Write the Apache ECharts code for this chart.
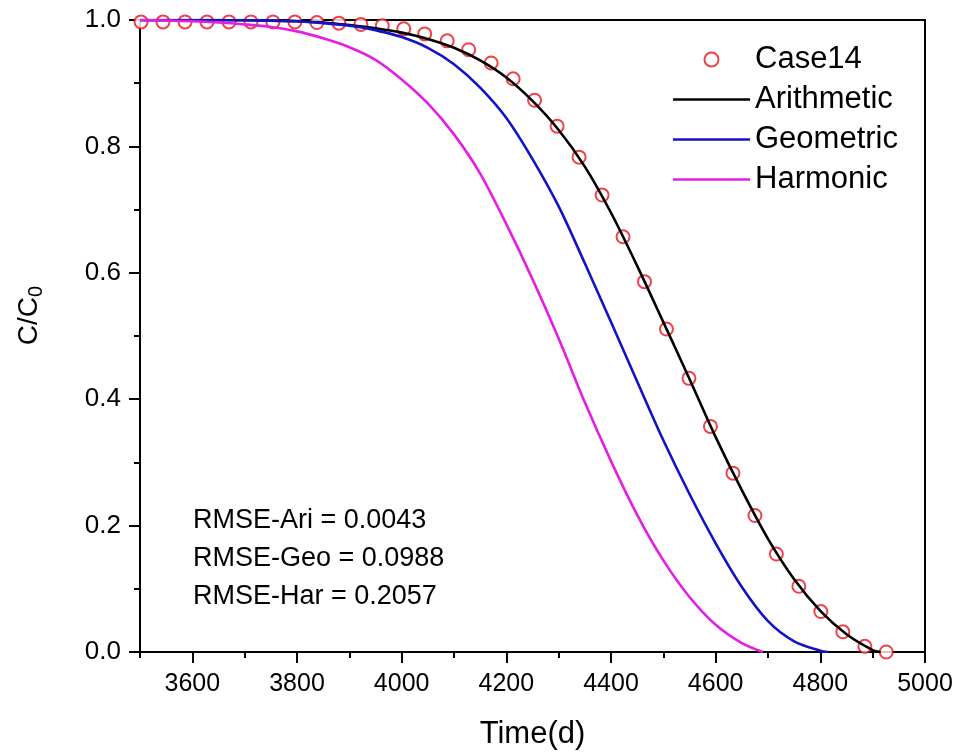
<!DOCTYPE html>
<html>
<head>
<meta charset="utf-8">
<script src="https://cdn.jsdelivr.net/npm/echarts@6/dist/echarts.min.js"></script>
<style>html,body{margin:0;padding:0;background:#fff;}#c{width:957px;height:755px;}</style>
</head>
<body>
<div id="c"></div>
<script>
// Observed data (Case14)
const caseT = [3502,3544,3586,3628,3670,3712,3754,3796,3838,3880,3922,3963,4004,4044,4087,4128,4171,4213,4254,4297,4339,4383,4423,4464,4506,4549,4590,4633,4675,4716,4759,4801,4843,4885,4926];
const caseC = [0.997,0.997,0.997,0.997,0.997,0.997,0.997,0.997,0.996,0.995,0.993,0.991,0.986,0.978,0.967,0.953,0.932,0.907,0.873,0.832,0.783,0.723,0.657,0.586,0.511,0.433,0.357,0.283,0.216,0.155,0.104,0.064,0.032,0.009,0.0];

// Arithmetic
const ariT = [3500,3550,3600,3650,3700,3750,3800,3850,3900,3950,4000,4050,4100,4150,4200,4250,4300,4350,4400,4450,4500,4550,4600,4650,4700,4750,4800,4850,4900,4915];
const ariC = [1.0,1.0,1.0,1.0,0.9995,0.999,0.998,0.996,0.992,0.987,0.980,0.970,0.956,0.936,0.909,0.872,0.826,0.768,0.695,0.611,0.522,0.432,0.340,0.256,0.179,0.115,0.065,0.028,0.003,0.0];

// Geometric
const geoT = [3500,3600,3650,3700,3750,3800,3850,3900,3950,4000,4050,4100,4150,4200,4250,4300,4350,4400,4450,4500,4550,4600,4650,4700,4750,4800,4815];
const geoC = [1.0,1.0,1.0,1.0,0.999,0.998,0.995,0.991,0.984,0.973,0.956,0.930,0.893,0.845,0.780,0.705,0.615,0.522,0.428,0.335,0.250,0.172,0.103,0.049,0.017,0.002,0.0];

// Harmonic
const harT = [3500,3550,3600,3650,3700,3750,3800,3850,3900,3950,4000,4050,4100,4150,4200,4250,4300,4350,4400,4450,4500,4550,4600,4650,4690];
const harC = [1.0,0.999,0.998,0.996,0.993,0.989,0.982,0.971,0.957,0.937,0.906,0.868,0.819,0.757,0.677,0.590,0.496,0.395,0.302,0.217,0.145,0.087,0.043,0.014,0.0];

const xMajor = [3600,3800,4000,4200,4400,4600,4800,5000];
const xMinor = [3500,3700,3900,4100,4300,4500,4700,4900];
const rmseLines = ['RMSE-Ari = 0.0043','RMSE-Geo = 0.0988','RMSE-Har = 0.2057'];

const zip = (a, b) => a.map((v, i) => [v, b[i]]);
const FONT = '"Liberation Sans", Arial, sans-serif';
const LINE_ICON = 'path://M0,5.7 L77,5.7 L77,8.3 L0,8.3 Z M0,0 L0.01,0 L0.01,14 L0,14 Z';

const chart = echarts.init(document.getElementById('c'), null, {renderer: 'canvas'});
chart.setOption({
  animation: false,
  backgroundColor: '#fff',
  textStyle: {fontFamily: FONT},
  grid: {left: 140, right: 32, top: 20, bottom: 102, show: true, borderColor: '#000', borderWidth: 2},
  legend: {
    orient: 'vertical', left: 668, top: 39,
    itemWidth: 77, itemHeight: 14, itemGap: 9, itemTextGap: 12,
    data: [
      {name: 'Case14', icon: 'emptyCircle'},
      {name: 'Arithmetic', icon: LINE_ICON},
      {name: 'Geometric', icon: LINE_ICON},
      {name: 'Harmonic', icon: LINE_ICON}
    ],
    textStyle: {fontFamily: FONT, fontSize: 31, color: '#000'}
  },
  xAxis: [{
    type: 'value', min: 3500, max: 5000, gridIndex: 0,
    splitLine: {show: false},
    axisLine: {show: true, lineStyle: {color: '#000', width: 2}},
    axisTick: {show: true, customValues: xMajor, length: 11, lineStyle: {color: '#000', width: 2}},
    axisLabel: {customValues: xMajor, fontSize: 25, color: '#000', margin: 20, fontFamily: FONT, formatter: v => String(v)},
    name: 'Time(d)', nameLocation: 'middle', nameGap: 67,
    nameTextStyle: {fontSize: 31, color: '#000', fontFamily: FONT}
  }, {
    type: 'value', min: 3500, max: 5000, gridIndex: 0, position: 'bottom',
    splitLine: {show: false},
    axisLine: {show: false},
    axisTick: {show: true, customValues: xMinor, length: 6, lineStyle: {color: '#000', width: 2}},
    axisLabel: {show: false}
  }],
  yAxis: {
    type: 'value', min: 0, max: 1, interval: 0.2,
    splitLine: {show: false},
    axisLine: {show: true, lineStyle: {color: '#000', width: 2}},
    axisTick: {show: true, length: 11, lineStyle: {color: '#000', width: 2}},
    minorTick: {show: true, splitNumber: 2, length: 6, lineStyle: {color: '#000', width: 2}},
    axisLabel: {fontSize: 26, color: '#000', margin: 19, fontFamily: FONT, formatter: v => v.toFixed(1)}
  },
  graphic: [
    {type: 'text', left: 15, top: 286, rotation: Math.PI / 2,
     style: {text: '{a|C/C}{s|0}', fill: '#000', font: '28px ' + FONT,
       rich: {a: {fontSize: 28, fontFamily: FONT, fill: '#000'},
              s: {fontSize: 20, fontFamily: FONT, fill: '#000', verticalAlign: 'bottom', padding: [15, 0, 0, 0]}}}},
    {type: 'text', left: 193, top: 507, style: {text: rmseLines[0], fill: '#000', font: '27px ' + FONT}},
    {type: 'text', left: 193, top: 545, style: {text: rmseLines[1], fill: '#000', font: '27px ' + FONT}},
    {type: 'text', left: 193, top: 583, style: {text: rmseLines[2], fill: '#000', font: '27px ' + FONT}}
  ],
  series: [
    {name: 'Case14', type: 'scatter', data: zip(caseT, caseC), symbol: 'emptyCircle', symbolSize: 13,
     itemStyle: {color: '#e8141b', borderWidth: 2}, z: 2},
    {name: 'Arithmetic', type: 'line', data: zip(ariT, ariC), showSymbol: false, symbol: 'none', smooth: 0.3,
     lineStyle: {color: '#000', width: 2.6}, itemStyle: {color: '#000'}, z: 3},
    {name: 'Geometric', type: 'line', data: zip(geoT, geoC), showSymbol: false, symbol: 'none', smooth: 0.3,
     lineStyle: {color: '#1212c8', width: 2.6}, itemStyle: {color: '#1212c8'}, z: 3},
    {name: 'Harmonic', type: 'line', data: zip(harT, harC), showSymbol: false, symbol: 'none', smooth: 0.3,
     lineStyle: {color: '#e41ee4', width: 2.6}, itemStyle: {color: '#e41ee4'}, z: 3}
  ]
});
</script>
</body>
</html>
